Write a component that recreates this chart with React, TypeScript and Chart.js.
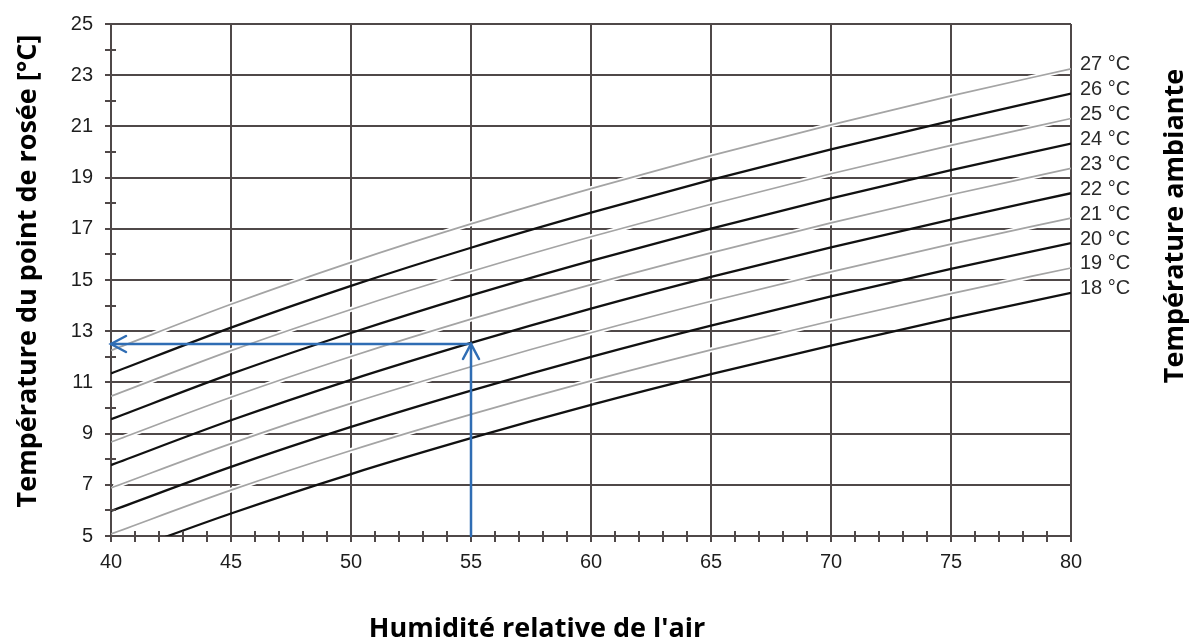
import React, { useEffect, useRef } from "react";
import { Chart, registerables } from "chart.js";

Chart.register(...registerables);

// Relative humidity (%) sample points
const humidity = [40, 45, 50, 55, 60, 65, 70, 75, 80];

// Ambient temperatures (°C), one curve each
const ambientTemps = [18, 19, 20, 21, 22, 23, 24, 25, 26, 27];

// Dew point (°C) read at each humidity point, one array per ambient temperature
const dew18 = [4.19, 5.88, 7.42, 8.82, 10.12, 11.32, 12.44, 13.5, 14.5];
const dew19 = [5.08, 6.79, 8.34, 9.75, 11.06, 12.27, 13.4, 14.47, 15.47];
const dew20 = [5.98, 7.7, 9.26, 10.68, 12.0, 13.22, 14.36, 15.43, 16.44];
const dew21 = [6.88, 8.61, 10.18, 11.61, 12.94, 14.17, 15.32, 16.4, 17.42];
const dew22 = [7.77, 9.52, 11.1, 12.54, 13.88, 15.12, 16.27, 17.36, 18.39];
const dew23 = [8.67, 10.42, 12.01, 13.47, 14.82, 16.06, 17.23, 18.33, 19.36];
const dew24 = [9.56, 11.33, 12.93, 14.4, 15.75, 17.01, 18.19, 19.29, 20.33];
const dew25 = [10.46, 12.24, 13.85, 15.33, 16.69, 17.96, 19.15, 20.26, 21.31];
const dew26 = [11.35, 13.14, 14.77, 16.26, 17.63, 18.91, 20.1, 21.22, 22.28];
const dew27 = [12.25, 14.05, 15.69, 17.19, 18.57, 19.86, 21.06, 22.19, 23.25];
const dewSeries = [dew18, dew19, dew20, dew21, dew22, dew23, dew24, dew25, dew26, dew27];

// Reading example arrow: from 55 % up to the 22 °C curve, then left to the axis
const arrowX = [55, 55, 40];
const arrowY = [5, 12.5, 12.5];

// Axis ranges
const xMin = 40;
const xMax = 80;
const yMin = 5;
const yMax = 25;

const xTitle = "Humidité relative de l'air";
const yTitle = "Température du point de rosée [°C]";
const rightTitle = "Température ambiante";

const GRID = "#4f4848";
const BLUE = "#2f6db4";
const TICK_FONT = "'Liberation Sans', Arial, sans-serif";
const TITLE_FONT = "'Open Sans', 'Noto Sans', sans-serif";

export default function App() {
  const ref = useRef<HTMLCanvasElement>(null);

  useEffect(() => {
    if (!ref.current) return;
    const datasets: any[] = [];
    ambientTemps.forEach((t, i) => {
      const pts = humidity.map((h, j) => ({ x: h, y: dewSeries[i][j] }));
      const gray = t % 2 === 1;
      if (gray) {
        datasets.push({
          label: "halo" + t,
          data: pts,
          borderColor: "#ffffff",
          borderWidth: 5,
          pointRadius: 0,
          cubicInterpolationMode: "monotone",
          order: 3,
          clip: { left: -2, right: -2, top: 0, bottom: -2 },
        });
      }
      datasets.push({
        label: t + " °C",
        data: pts,
        borderColor: gray ? "#a4a4a4" : "#111111",
        borderWidth: gray ? 1.7 : 2.3,
        pointRadius: 0,
        cubicInterpolationMode: "monotone",
        order: gray ? 2 : 1,
      });
    });

    const annot = {
      id: "annot",
      afterDraw(chart: any) {
        const { ctx, chartArea, scales } = chart;
        const x = scales.x;
        const y = scales.y;
        ctx.save();
        // minor ticks crossing the axes (inner half)
        ctx.strokeStyle = GRID;
        ctx.lineWidth = 2;
        x.ticks.forEach((tk: any) => {
          if (tk.value % 5 !== 0) {
            const px = Math.round(x.getPixelForValue(tk.value));
            ctx.beginPath();
            ctx.moveTo(px, chartArea.bottom - 5);
            ctx.lineTo(px, chartArea.bottom);
            ctx.stroke();
          }
        });
        y.ticks.forEach((tk: any) => {
          if (tk.value % 2 === 0) {
            const py = Math.round(y.getPixelForValue(tk.value));
            ctx.beginPath();
            ctx.moveTo(chartArea.left, py);
            ctx.lineTo(chartArea.left + 5, py);
            ctx.stroke();
          }
        });

        // arrow
        const pts = arrowX.map((v, i) => [x.getPixelForValue(v), y.getPixelForValue(arrowY[i])]);
        ctx.strokeStyle = BLUE;
        ctx.lineWidth = 2.5;
        ctx.lineCap = "round";
        ctx.lineJoin = "miter";
        ctx.beginPath();
        ctx.moveTo(pts[0][0], pts[0][1]);
        for (let i = 1; i < pts.length; i++) ctx.lineTo(pts[i][0], pts[i][1]);
        ctx.stroke();
        const head = (a: number[], b: number[]) => {
          const dx = b[0] - a[0];
          const dy = b[1] - a[1];
          const len = Math.hypot(dx, dy) || 1;
          const ux = dx / len;
          const uy = dy / len;
          const nx = -uy;
          const ny = ux;
          ctx.beginPath();
          ctx.moveTo(b[0] - ux * 15 + nx * 8, b[1] - uy * 15 + ny * 8);
          ctx.lineTo(b[0], b[1]);
          ctx.lineTo(b[0] - ux * 15 - nx * 8, b[1] - uy * 15 - ny * 8);
          ctx.stroke();
        };
        head(pts[0], pts[1]);
        head(pts[1], pts[2]);

        // right-hand curve labels
        ctx.fillStyle = "#2a2a2a";
        ctx.font = `20px ${TICK_FONT}`;
        ctx.textAlign = "left";
        ctx.textBaseline = "middle";
        ambientTemps.forEach((t, i) => {
          const s = dewSeries[i];
          const py = y.getPixelForValue(s[s.length - 1]) - 4;
          ctx.fillText(`${t} °C`, chartArea.right + 9, py);
        });

        // titles
        ctx.fillStyle = "#000000";
        ctx.font = `700 27px ${TITLE_FONT}`;
        ctx.textAlign = "center";
        ctx.textBaseline = "alphabetic";
        ctx.fillText(xTitle, 537, 637);

        ctx.save();
        ctx.translate(28, 271);
        ctx.rotate(-Math.PI / 2);
        ctx.textBaseline = "middle";
        ctx.fillText(yTitle, 0, 0);
        ctx.restore();

        ctx.save();
        ctx.translate(1175, 226);
        ctx.rotate(-Math.PI / 2);
        ctx.textBaseline = "middle";
        ctx.fillText(rightTitle, 0, 0);
        ctx.restore();

        ctx.restore();
      },
    };

    const chart = new Chart(ref.current, {
      type: "line",
      data: { datasets },
      options: {
        animation: false,
        responsive: false,
        events: [],
        layout: { padding: { top: 23, right: 121, bottom: 0, left: 0 } },
        plugins: { legend: { display: false }, tooltip: { enabled: false } },
        scales: {
          x: {
            type: "linear",
            min: xMin,
            max: xMax,
            z: 1,
            afterFit: (s: any) => {
              s.height = 105;
            },
            border: { color: GRID, width: 2 },
            grid: {
              color: (c: any) => (c.tick && c.tick.value % 5 === 0 ? GRID : "rgba(0,0,0,0)"),
              lineWidth: 2,
              tickColor: GRID,
              tickWidth: 2,
              tickLength: 6,
            },
            ticks: {
              stepSize: 1,
              autoSkip: false,
              maxRotation: 0,
              padding: 8,
              color: "#1e1e1e",
              font: { family: TICK_FONT, size: 20 },
              callback: (v: any) => (Number(v) % 5 === 0 ? String(v) : ""),
            },
          },
          y: {
            type: "linear",
            min: yMin,
            max: yMax,
            afterFit: (s: any) => {
              s.width = 111;
            },
            border: { color: GRID, width: 2 },
            grid: {
              color: (c: any) => (c.tick && c.tick.value % 2 === 1 ? GRID : "rgba(0,0,0,0)"),
              lineWidth: 2,
              tickColor: GRID,
              tickWidth: 2,
              tickLength: 6,
            },
            ticks: {
              stepSize: 1,
              autoSkip: false,
              padding: 12,
              color: "#1e1e1e",
              font: { family: TICK_FONT, size: 20 },
              callback: (v: any) => (Number(v) % 2 === 1 ? String(v) : ""),
            },
          },
        },
      },
      plugins: [annot],
    } as any);

    return () => chart.destroy();
  }, []);

  return (
    <div style={{ position: "absolute", left: 0, top: 0, width: 1192, height: 641, background: "#fff" }}>
      <canvas ref={ref} width={1192} height={641} style={{ display: "block" }} />
    </div>
  );
}
